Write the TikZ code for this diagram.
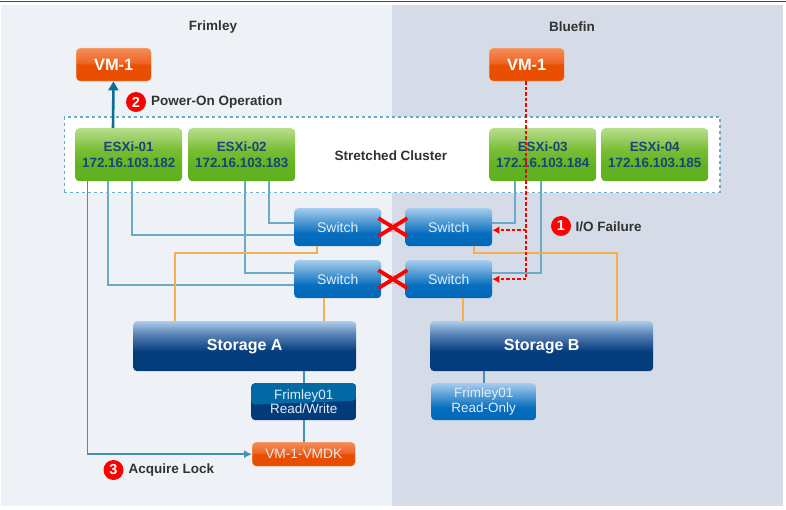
\documentclass[tikz,border=0pt]{standalone}
\usepackage{fontspec}
\setmainfont{Liberation Sans}
\usetikzlibrary{arrows.meta,calc}
\definecolor{panelL}{RGB}{238,242,247}
\definecolor{panelR}{RGB}{213,220,231}
\definecolor{linkblue}{RGB}{105,170,197}
\definecolor{deepblue}{RGB}{10,110,150}
\definecolor{wire}{RGB}{245,175,80}
\definecolor{labelgrey}{RGB}{50,50,50}
\definecolor{hosttext}{RGB}{20,70,120}
\definecolor{rwdark}{RGB}{2,58,122}
\definecolor{rwlight}{RGB}{2,105,165}
\definecolor{softwhite}{RGB}{225,238,250}
\definecolor{topbar}{RGB}{70,70,70}
\definecolor{vmedge}{RGB}{240,190,130}
\pgfdeclareverticalshading{hostshade}{100bp}{
 rgb(0bp)=(.38,.69,.13); rgb(25bp)=(.38,.69,.13); rgb(40bp)=(.39,.70,.13); rgb(54bp)=(.47,.74,.20); rgb(75bp)=(.72,.87,.55); rgb(100bp)=(.72,.87,.55)}
\pgfdeclareverticalshading{vmshade}{100bp}{
 rgb(0bp)=(.91,.30,0); rgb(25bp)=(.91,.30,0); rgb(50bp)=(.92,.31,0); rgb(53bp)=(.93,.40,.14); rgb(75bp)=(.96,.55,.35); rgb(100bp)=(.96,.55,.35)}
\pgfdeclareverticalshading{switchshade}{100bp}{
 rgb(0bp)=(0,.41,.73); rgb(25bp)=(0,.41,.73); rgb(42bp)=(.02,.43,.74); rgb(75bp)=(.65,.80,.93); rgb(100bp)=(.65,.80,.93)}
\pgfdeclareverticalshading{storeshade}{100bp}{
 rgb(0bp)=(.01,.23,.48); rgb(25bp)=(.01,.23,.48); rgb(45bp)=(.02,.24,.49); rgb(62bp)=(.35,.51,.71); rgb(75bp)=(.67,.80,.92); rgb(100bp)=(.67,.80,.92)}
\tikzset{
 x=1pt,y=-1pt,
 boxbase/.style={anchor=north west,inner sep=0pt,rounded corners=4pt,align=center,font=\bfseries},
 hostbox/.style={boxbase,shading=hostshade,minimum width=107pt,minimum height=53pt,text=hosttext,font=\bfseries\fontsize{13.4}{16.5}\selectfont},
 vmbox/.style={boxbase,shading=vmshade,draw=vmedge,line width=.4pt,minimum width=75pt,minimum height=33pt,text=white,font=\bfseries\fontsize{16.4}{18}\selectfont},
 switchbox/.style={boxbase,shading=switchshade,minimum width=87pt,minimum height=38pt,text=softwhite,font=\fontsize{14}{16}\selectfont},
 storebox/.style={boxbase,shading=storeshade,minimum width=223pt,minimum height=50pt,text=white,font=\bfseries\fontsize{16}{18}\selectfont},
 rwbox/.style={boxbase,minimum width=105pt,minimum height=37pt,text=softwhite,font=\fontsize{13.5}{14.5}\selectfont,
   path picture={\fill[rwdark] (path picture bounding box.north west) rectangle (path picture bounding box.south east);
     \fill[rwlight] (path picture bounding box.north west) -- (path picture bounding box.north east) -- ([yshift=1pt]path picture bounding box.east) -- ([yshift=-3pt]path picture bounding box.west) -- cycle;}},
 robox/.style={boxbase,shading=switchshade,minimum width=105pt,minimum height=37pt,text=softwhite,font=\fontsize{13.5}{14.5}\selectfont},
 diskbox/.style={boxbase,shading=vmshade,draw=vmedge,line width=.4pt,minimum width=103pt,minimum height=24pt,text=softwhite,font=\fontsize{13.7}{15}\selectfont},
 link/.style={draw=linkblue,line width=1.8pt},
 darklink/.style={draw=linkblue!60!deepblue,line width=1.8pt},
 wirelink/.style={draw=wire,line width=1.8pt},
 faildash/.style={draw=red,line width=2.2pt,dash pattern=on 3.5pt off 2pt},
 crossmark/.style={draw=red,line width=3.8pt},
 peer/.style={draw=black!25,line width=1.2pt},
 badge/.style={circle,fill=red,inner sep=0pt,minimum size=20pt,text=white,font=\bfseries\fontsize{14.5}{16}\selectfont},
 callout/.style={anchor=west,inner sep=0pt,text=labelgrey,font=\bfseries\fontsize{13.5}{15}\selectfont},
 sitelabel/.style={inner sep=0pt,text=labelgrey,font=\bfseries\fontsize{13.5}{15}\selectfont},
}
\begin{document}
\begin{tikzpicture}
\useasboundingbox (0,0) rectangle (786,510);
\fill[white] (0,0) rectangle (786,510);
\fill[topbar] (0,1) rectangle (786,2.5);
\fill[panelL] (1,5) rectangle (392,506);
\fill[panelR] (392,5) rectangle (783,506);
\node[sitelabel] (frimley) at (213,27) {Frimley};
\node[sitelabel] (bluefin) at (572,27) {Bluefin};
\node[draw=linkblue,dashed,line width=1.5pt,fill=white,anchor=north west,inner sep=0pt,minimum width=655.5pt,minimum height=75.5pt] (cluster) at (63.5,116.5) {};
\node[sitelabel] (clusterlabel) at (391,156) {Stretched Cluster};
\node[vmbox] (vma) at (76,48) {VM-1};
\node[vmbox] (vmb) at (489,48) {VM-1};
\node[hostbox] (e1) at (75,128) {ESXi-01\\172.16.103.182};
\node[hostbox] (e2) at (188,128) {ESXi-02\\172.16.103.183};
\node[hostbox] (e3) at (489,128) {ESXi-03\\172.16.103.184};
\node[hostbox] (e4) at (601,128) {ESXi-04\\172.16.103.185};
\node[switchbox] (s1) at (294,208) {Switch};
\node[switchbox] (s2) at (405,208) {Switch};
\node[switchbox] (s3) at (294,260) {Switch};
\node[switchbox] (s4) at (405,260) {Switch};
\node[storebox] (sa) at (133,321) {Storage A};
\node[storebox] (sb) at (430,321) {Storage B};
\node[rwbox] (rw) at (251,383) {Frimley01\\Read/Write};
\node[robox] (ro) at (431,383) {Frimley01\\Read-Only};
\node[diskbox] (disk) at (252,442) {VM-1-VMDK};
% peer links between switches
\draw[peer] ([yshift=-4pt]s1.east) -- ([yshift=-4pt]s2.west);
\draw[peer] ([yshift=4pt]s1.east) -- ([yshift=4pt]s2.west);
\draw[peer] ([yshift=-4pt]s3.east) -- ([yshift=-4pt]s4.west);
\draw[peer] ([yshift=4pt]s3.east) -- ([yshift=4pt]s4.west);
% host links
\draw[darklink,-{Latex[length=8pt,width=8pt]}] ([xshift=12.5pt]e1.south west) |- (disk.west);
\draw[link] ([xshift=33pt]e1.south west) |- ([yshift=-6pt]s3.west);
\draw[link] ([xshift=57pt]e1.south west) |- ([yshift=-8pt]s1.west);
\draw[link] ([xshift=57pt]e2.south west) |- ([yshift=6pt]s3.west);
\draw[link] ([xshift=81pt]e2.south west) |- ([yshift=4pt]s1.west);
\draw[link] ([xshift=26pt]e3.south west) |- ([yshift=4pt]s2.east);
\draw[link] ([xshift=52pt]e3.south west) |- ([yshift=6pt]s4.east);
% storage wires
\draw[wirelink] ([xshift=23pt]s1.south west) -- ++(0,7) -| ([xshift=42pt]sa.north west);
\draw[wirelink] ([xshift=30pt]s3.south west) -- ([xshift=191pt]sa.north west);
\draw[wirelink] ([xshift=69pt]s2.south west) -- ++(0,7) -| ([xshift=187pt]sb.north west);
\draw[wirelink] ([xshift=58pt]s4.south west) -- ([xshift=33pt]sb.north west);
% power-on
\draw[draw=deepblue,line width=2.6pt,-{Triangle[length=9pt,width=10pt]}] ([xshift=38pt]e1.north west) -- ([xshift=37.5pt]vma.south west);
% storage to LUNs
\draw[darklink] (sa.south -| rw.north) -- (rw.north);
\draw[darklink] (rw.south) -- (rw.south |- disk.north);
\draw[darklink] (ro.north) -- (ro.north |- sb.south);
% failure path
\coordinate (failtop) at ([xshift=37pt]vmb.south west);
\draw[faildash] (failtop) -- (failtop |- s4.east);
\draw[faildash,-{Latex[length=7pt,width=8pt]}] ([yshift=-3pt]failtop |- s2.east) -- ([yshift=-3pt]s2.east);
\draw[faildash,-{Latex[length=7pt,width=8pt]}] (failtop |- s4.east) -- (s4.east);
% crosses
\draw[crossmark] ([xshift=-3pt,yshift=9pt]s1.east) -- ([xshift=26pt,yshift=-9pt]s1.east);
\draw[crossmark] ([xshift=-3pt,yshift=-9pt]s1.east) -- ([xshift=26pt,yshift=9pt]s1.east);
\draw[crossmark] ([xshift=-3pt,yshift=9pt]s3.east) -- ([xshift=26pt,yshift=-9pt]s3.east);
\draw[crossmark] ([xshift=-3pt,yshift=-9pt]s3.east) -- ([xshift=26pt,yshift=9pt]s3.east);
% callouts
\node[badge] (b2) at (136,102) {2};
\node[callout] (t2) at (151,102.5) {Power-On Operation};
\node[badge] (b1) at (561,226) {1};
\node[callout] (t1) at (575.5,227) {I/O Failure};
\node[badge] (b3) at (113.5,470) {3};
\node[callout] (t3) at (128.5,470.5) {Acquire Lock};
\end{tikzpicture}
\end{document}
